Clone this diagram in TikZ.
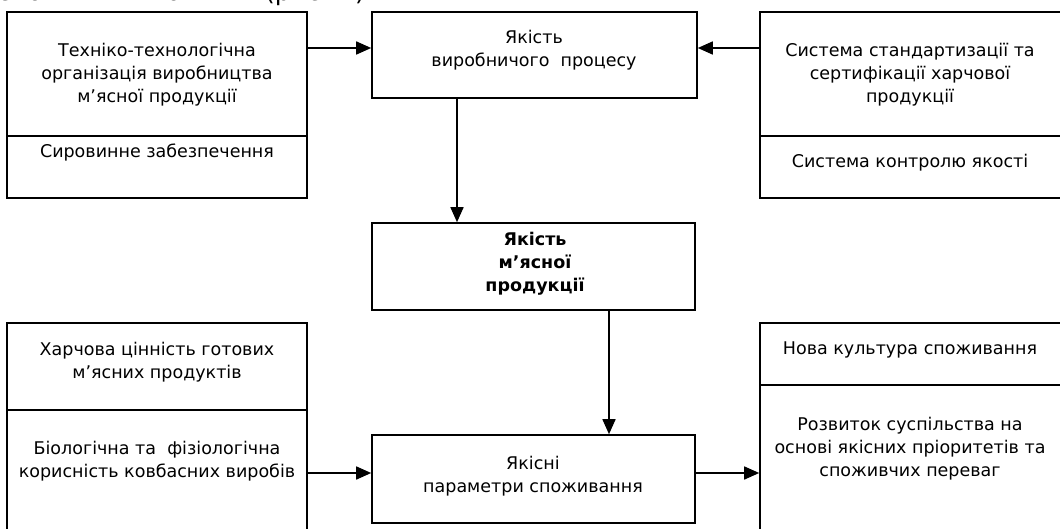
\documentclass[tikz,border=0pt]{standalone}
\usepackage{fontspec}
\setmainfont{DejaVu Sans}
\usetikzlibrary{arrows.meta}
\begin{document}
\begin{tikzpicture}[x=1pt,y=-1pt,
  box/.style={draw,line width=1.6pt,inner sep=0pt,minimum width=#1},
  txt/.style={align=center,inner sep=0pt,font=\fontsize{17.5}{23}\selectfont},
  arr/.style={line width=1.6pt,-{Triangle[length=15pt,width=13pt]}}]
\useasboundingbox (0,0) rectangle (1060,529);
\node[anchor=base west,inner sep=0pt,font=\fontsize{25}{29}\selectfont] (hdr) at (-3,1) {споживчих поняття (рис. 1).};
% top row
\node[box=300pt,minimum height=124pt] (ltu) at (157,74) {};
\node[box=300pt,minimum height=62pt] (ltl) at (157,167) {};
\node[box=325pt,minimum height=86pt] (mt) at (534.5,55) {};
\node[box=304pt,minimum height=124pt] (rtu) at (912,74) {};
\node[box=304pt,minimum height=62pt] (rtl) at (912,167) {};
% middle
\node[box=323pt,minimum height=87pt] (mm) at (533.5,266.5) {};
% bottom row
\node[box=300pt,minimum height=87pt] (lbu) at (157,366.5) {};
\node[box=300pt,minimum height=130pt] (lbl) at (157,475) {};
\node[box=323pt,minimum height=88pt] (mb) at (533.5,479) {};
\node[box=304pt,minimum height=62pt] (rbu) at (912,354) {};
\node[box=304pt,minimum height=155pt] (rbl) at (912,462.5) {};
% texts
\node[txt] (t1) at (157,75) {Техніко-технологічна\\організація виробництва\\м’ясної продукції};
\node[txt] (t2) at (157,153) {Сировинне забезпечення};
\node[txt] (t3) at (534,50.5) {Якість\\виробничого\ \ процесу};
\node[txt] (t4) at (910,75) {Система стандартизації та\\сертифікації харчової\\продукції};
\node[txt] (t5) at (910,163) {Система контролю якості};
\node[txt,font=\bfseries\fontsize{17.5}{23}\selectfont] (t6) at (535,264) {Якість\\м’ясної\\продукції};
\node[txt] (t7) at (157,362) {Харчова цінність готових\\м’ясних продуктів};
\node[txt] (t8) at (157,461.5) {Біологічна та\ \ фізіологічна\\корисність ковбасних виробів};
\node[txt] (t9) at (533,476) {Якісні\\параметри споживання};
\node[txt] (t10) at (910,350) {Нова культура споживання};
\node[txt] (t11) at (910,448.5) {Розвиток суспільства на\\основі якісних пріоритетів та\\споживчих переваг};
% connectors
\draw[arr] ([yshift=26pt]ltu.east) -- ([yshift=7pt]mt.west);
\draw[arr] ([yshift=26pt]rtu.west) -- ([yshift=7pt]mt.east);
\draw[arr] ([xshift=-77.5pt]mt.south) -- ([xshift=-76.5pt]mm.north);
\draw[arr] ([xshift=75.5pt]mm.south) -- ([xshift=75.5pt]mb.north);
\draw[arr] ([yshift=2pt]lbl.east) -- ([yshift=6pt]mb.west);
\draw[arr] ([yshift=6pt]mb.east) -- ([yshift=-10.5pt]rbl.west);
\end{tikzpicture}
\end{document}
